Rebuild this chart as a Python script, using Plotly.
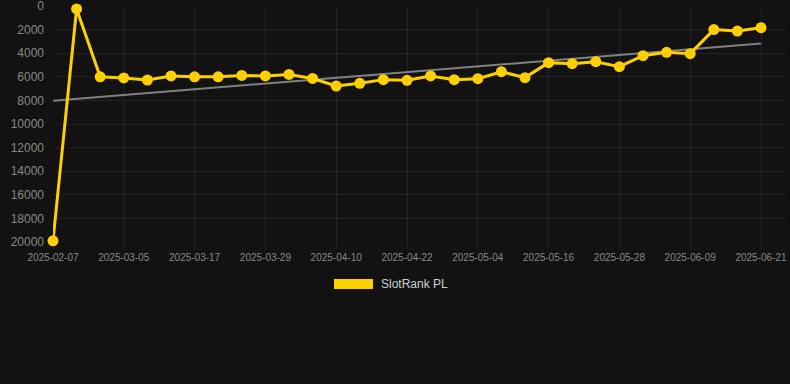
import numpy as np
import plotly.graph_objects as go

dates = [
    "2025-02-07", "2025-02-25", "2025-03-01", "2025-03-05", "2025-03-09",
    "2025-03-13", "2025-03-17", "2025-03-21", "2025-03-25", "2025-03-29",
    "2025-04-02", "2025-04-06", "2025-04-10", "2025-04-14", "2025-04-18",
    "2025-04-22", "2025-04-26", "2025-04-30", "2025-05-04", "2025-05-08",
    "2025-05-12", "2025-05-16", "2025-05-20", "2025-05-24", "2025-05-28",
    "2025-06-01", "2025-06-05", "2025-06-09", "2025-06-13", "2025-06-17",
    "2025-06-21",
]
ranks = [
    19900, 250, 6000, 6100, 6270, 5930, 6000, 6000, 5880, 5930,
    5800, 6140, 6780, 6550, 6240, 6300, 5930, 6240, 6160, 5570,
    6070, 4800, 4890, 4720, 5140, 4210, 3930, 4040, 2000, 2120,
    1840,
]
tick_labels = [
    "2025-02-07", "2025-03-05", "2025-03-17", "2025-03-29", "2025-04-10",
    "2025-04-22", "2025-05-04", "2025-05-16", "2025-05-28", "2025-06-09",
    "2025-06-21",
]
y_ticks = [0, 2000, 4000, 6000, 8000, 10000, 12000, 14000, 16000, 18000, 20000]
series_name = "SlotRank PL"

gold = "#FFD000"
bg = "#121212"
grid = "rgba(255,255,255,0.07)"

idx = np.arange(len(ranks))
slope, intercept = np.polyfit(idx, np.array(ranks, dtype=float), 1)
trend = [intercept + slope * idx[0], intercept + slope * idx[-1]]

fig = go.Figure()
fig.add_trace(go.Scatter(
    x=[dates[0], dates[-1]], y=trend, mode="lines",
    line=dict(color="#808080", width=2), hoverinfo="skip", showlegend=False,
))
fig.add_trace(go.Scatter(
    x=dates, y=ranks, mode="lines+markers", name=series_name,
    line=dict(color=gold, width=3),
    marker=dict(color=gold, size=11),
    cliponaxis=False, showlegend=False,
))

W, H = 790, 384
ml, mr, mt, mb = 53, 5, 6, 142
pw = W - ml - mr
ph = H - mt - mb

def px_x(p):
    return (p - ml) / pw

def px_y(p):
    return (H - mb - p) / ph

# legend drawn manually (wide colour box + text)
fig.add_shape(type="rect", xref="paper", yref="paper",
              x0=px_x(334), x1=px_x(373), y0=px_y(289), y1=px_y(279),
              fillcolor=gold, line=dict(width=0))
fig.add_annotation(xref="paper", yref="paper", x=px_x(379), y=px_y(284),
                   text=series_name, showarrow=False, xanchor="left", yanchor="middle",
                   font=dict(family="Liberation Sans, Arial, sans-serif", size=12, color="#d0d0d0"))

step = (761 - 53) / 30.0
fig.update_layout(
    width=W, height=H,
    margin=dict(l=ml, r=mr, t=mt, b=mb, autoexpand=False),
    paper_bgcolor=bg, plot_bgcolor=bg,
    font=dict(family="Liberation Sans, Arial, sans-serif", color="#888888"),
    showlegend=False,
    xaxis=dict(
        type="category", categoryorder="array", categoryarray=dates,
        range=[0, (W - mr - ml) / step],
        tickmode="array", tickvals=tick_labels, ticktext=tick_labels,
        showgrid=True, gridcolor=grid, gridwidth=1,
        ticks="outside", ticklen=6, tickcolor=grid,
        tickfont=dict(size=10, color="#888888"),
        ticklabeloverflow="allow", automargin=False,
        zeroline=False, showline=False,
    ),
    yaxis=dict(
        range=[20000, 0], tickmode="array", tickvals=y_ticks,
        ticktext=[str(v) for v in y_ticks],
        showgrid=True, gridcolor=grid, gridwidth=1,
        ticks="", ticklabelstandoff=8,
        tickfont=dict(size=12, color="#888888"),
        ticklabeloverflow="allow", automargin=False,
        zeroline=False, showline=False,
    ),
)

fig.write_html(
    "out.html",
    config={"displayModeBar": False},
    post_script="document.body.style.margin='0';document.body.style.padding='0';document.body.style.background='#121212';",
)
